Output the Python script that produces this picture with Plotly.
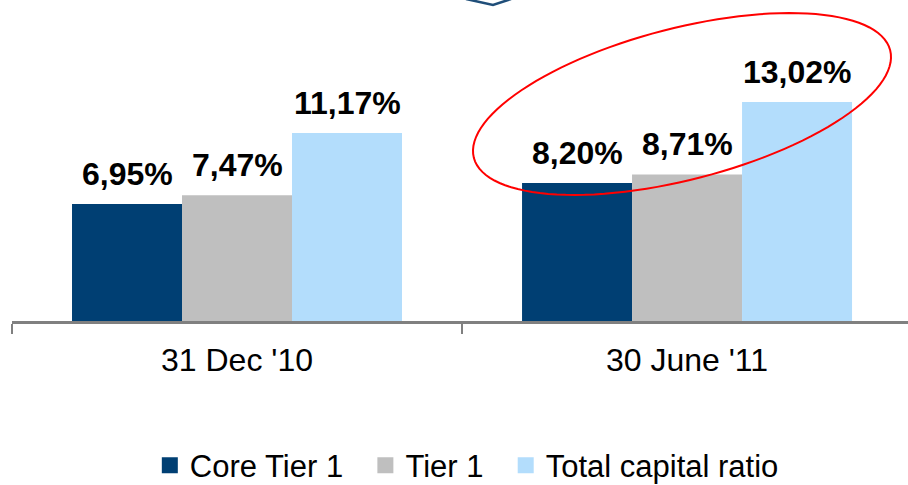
import numpy as np
import plotly.graph_objects as go

categories = ["31 Dec '10", "30 June '11"]
series_names = ["Core Tier 1", "Tier 1", "Total capital ratio"]
core_tier1 = [6.95, 8.20]
tier1 = [7.47, 8.71]
total_capital = [11.17, 13.02]
series_values = [core_tier1, tier1, total_capital]
colors = ["#003F73", "#BFBFBF", "#B3DDFC"]

W, H = 908, 485
L, R, T, B = 12, 0, 0, 164
pw, ph = W - L - R, H - T - B

fig = go.Figure()
for name, vals, col in zip(series_names, series_values, colors):
    fig.add_trace(go.Bar(x=categories, y=vals, name=name, marker_color=col,
                         marker_line_width=0, showlegend=False))
# legend entries with larger square symbols
legend_names = ["Core Tier 1\u00a0\u00a0", "Tier 1\u00a0\u00a0", "Total capital ratio"]
for name, col in zip(legend_names, colors):
    fig.add_trace(go.Scatter(x=[None], y=[None], mode="markers", name=name,
                             marker=dict(symbol="square", size=16, color=col)))

# value labels
offsets = [-110, 0, 110]
for vals, off in zip(series_values, offsets):
    for cat, v in zip(categories, vals):
        fig.add_annotation(x=cat, y=v, xref="x", yref="y", text=f"<b>{v:.2f}%</b>".replace(".", ","),
                           showarrow=False, xshift=off, yshift=10, yanchor="bottom",
                           font=dict(family="Liberation Sans", size=32, color="black"))

def to_paper(px, py):
    return (px - L) / pw, 1 - (py - T) / ph

# red ellipse highlight
cx, cy, a, b, th = 682, 104, 215, 75.7, np.deg2rad(-14.5)
t = np.linspace(0, 2 * np.pi, 121)
ex = cx + a * np.cos(th) * np.cos(t) - b * np.sin(th) * np.sin(t)
ey = cy + a * np.sin(th) * np.cos(t) + b * np.cos(th) * np.sin(t)
pts = [to_paper(x, y) for x, y in zip(ex, ey)]
path = "M " + " L ".join(f"{x:.5f},{y:.5f}" for x, y in pts) + " Z"
fig.add_shape(type="path", path=path, xref="paper", yref="paper",
              line=dict(color="#FF0000", width=2))

# small chevron at the top
v_pts = [to_paper(466, -1), to_paper(493, 5), to_paper(511, -1)]
fig.add_shape(type="path", path="M " + " L ".join(f"{x:.5f},{y:.5f}" for x, y in v_pts),
              xref="paper", yref="paper", line=dict(color="#1F4E79", width=2.5))

fig.update_layout(
    width=W, height=H,
    margin=dict(l=L, r=R, t=T, b=B),
    paper_bgcolor="white", plot_bgcolor="white",
    barmode="group", bargap=0.2667, bargroupgap=0,
    font=dict(family="Liberation Sans", color="black"),
    legend=dict(orientation="h", xref="container", yref="container",
                x=0.165, y=0.04, xanchor="left", yanchor="middle",
                font=dict(size=31, family="Liberation Sans", color="black"),
                itemwidth=30, tracegroupgap=0),
    xaxis=dict(range=[-0.5, 1.491], showline=True, linecolor="#808080", linewidth=3,
               ticks="outside", tickson="boundaries", ticklen=10, tickwidth=2,
               tickcolor="#808080", tickfont=dict(size=32, color="black"),
               ticklabelstandoff=9,
               showgrid=False, zeroline=False, fixedrange=True),
    yaxis=dict(range=[0, 19.08], visible=False, showgrid=False, zeroline=False),
)

fig.write_html("out.html", config={"displayModeBar": False},
               post_script="document.body.style.margin='0';document.body.style.overflow='hidden';")
